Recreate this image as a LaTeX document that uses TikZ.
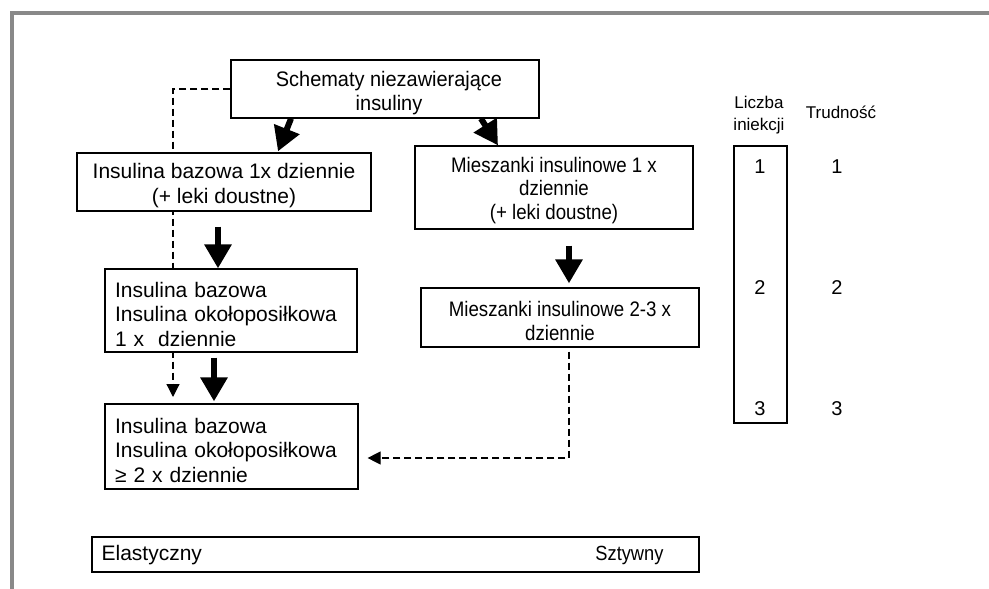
\documentclass[tikz,border=0pt]{standalone}
\usepackage{fontspec}
\setmainfont{Liberation Sans}
\newfontfamily\condfont[FakeStretch=0.89]{Liberation Sans}
\newfontfamily\slightcond[FakeStretch=0.95]{Liberation Sans}
\usetikzlibrary{arrows.meta}
\definecolor{frameGray}{RGB}{137,137,137}
\begin{document}
\begin{tikzpicture}[x=1pt,y=-1pt,
  box/.style={draw=black,line width=1.2pt,fill=white,inner sep=0pt},
  txt/.style={inner sep=0pt,align=center,font=\fontsize{21pt}{24.5pt}\selectfont},
  stxt/.style={txt,font=\condfont\fontsize{21pt}{23.5pt}\selectfont},
  ltxt/.style={txt,align=left},
  thick arrow/.style={line width=6pt,-{Triangle[width=26pt,length=24pt]}},
  dash arrow/.style={line width=1.2pt,dash pattern=on 7pt off 4pt,
    -{Triangle[width=13pt,length=13pt]}},
  lbl/.style={inner sep=0pt,align=center,font=\fontsize{17pt}{22pt}\selectfont},
  numtxt/.style={inner sep=0pt,font=\fontsize{20pt}{24pt}\selectfont}
]
\useasboundingbox (0,0) rectangle (989,589);
% frame
\draw[frameGray,line width=4.3pt,miter limit=10] (989,13) -- (11.7,13) -- (11.7,589);

% dashed connectors first (boxes cover them)
\coordinate (dl) at (173,397);
\node[box,minimum width=308pt,minimum height=58pt] (top) at (385,89) {};
\draw[dash arrow] (top.west) -| (dl);

\node[box,minimum width=294pt,minimum height=58pt] (A) at (224,182) {};
\node[box,minimum width=278pt,minimum height=83pt] (B) at (554,187.5) {};
\node[box,minimum width=252pt,minimum height=83pt] (C) at (231,310.5) {};
\node[box,minimum width=278pt,minimum height=59pt] (D) at (560,317.5) {};
\node[box,minimum width=253pt,minimum height=85pt] (E) at (231.5,446.5) {};

\node[txt,font=\slightcond\fontsize{21pt}{23.5pt}\selectfont] (topt) at ([xshift=4pt,yshift=-4pt]top.center) {Schematy niezawierające\\insuliny};
\node[txt] (At) at ([yshift=-3.5pt]A.center) {Insulina bazowa 1x dziennie\\(+ leki doustne)};
\node[stxt] (Bt) at ([yshift=-3pt]B.center) {Mieszanki insulinowe 1 x\\dziennie\\(+ leki doustne)};
\node[ltxt,text width=232pt] (Ct) at ([yshift=-3.5pt]C.center) {Insulina bazowa\\Insulina okołoposiłkowa\\1 x\ \ dziennie};
\node[stxt,font=\condfont\fontsize{21pt}{24.5pt}\selectfont] (Dt) at ([yshift=-3.5pt]D.center) {Mieszanki insulinowe 2-3 x\\dziennie};
\node[ltxt,text width=233pt] (Et) at ([yshift=-3.5pt]E.center) {Insulina bazowa\\Insulina okołoposiłkowa\\≥ 2 x dziennie};

\draw[dash arrow] ([xshift=9pt,yshift=-4pt]D.south) |- ([xshift=9pt,yshift=-11.5pt]E.east);

% thick arrows
\draw[thick arrow] ([xshift=-94pt]top.south) -- ([xshift=54pt,yshift=1pt]A.north);
\draw[thick arrow] ([xshift=96pt]top.south) -- ([xshift=-56pt]B.north);
\draw[thick arrow] ([xshift=-6pt,yshift=-15pt]A.south) -- ([xshift=-13pt]C.north);
\draw[thick arrow] ([xshift=15pt,yshift=-16pt]B.south) -- ([xshift=9pt,yshift=4pt]D.north);
\draw[thick arrow] ([xshift=-17pt,yshift=-5pt]C.south) -- ([xshift=-17.5pt,yshift=2pt]E.north);

% bottom bar
\node[box,minimum width=607pt,minimum height=35pt] (bar) at (395.5,554.5) {};
\node[txt,anchor=west] (el) at ([xshift=10pt,yshift=-1pt]bar.west) {Elastyczny};
\node[txt,anchor=east,font=\condfont\fontsize{20.5pt}{22pt}\selectfont] (sz) at ([xshift=-36pt,yshift=-1pt]bar.east) {Sztywny};

% right column
\node[lbl] (lic) at (759,115) {Liczba\\iniekcji};
\node[lbl] (tru) at (841,112) {Trudność};
\node[box,minimum width=53pt,minimum height=277pt] (col) at (760.5,284.5) {};
\node[numtxt] (n1) at (760,167) {1};
\node[numtxt] (n2) at (760,288) {2};
\node[numtxt] (n3) at (760,409) {3};
\node[numtxt] (t1) at (837,167) {1};
\node[numtxt] (t2) at (837,288) {2};
\node[numtxt] (t3) at (837,409) {3};
\end{tikzpicture}
\end{document}
